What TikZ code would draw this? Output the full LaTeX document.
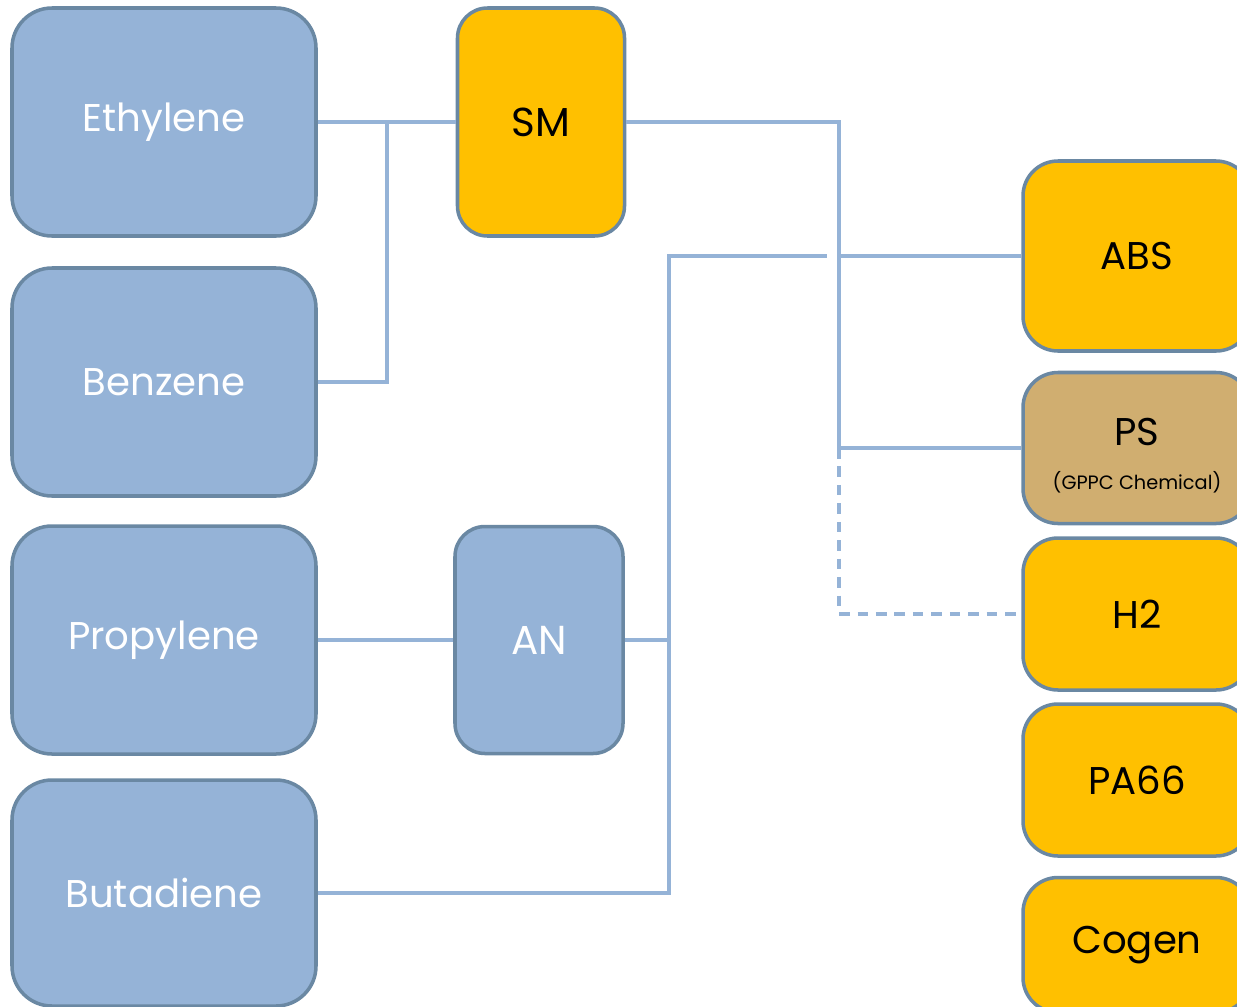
\documentclass[tikz,border=0pt]{standalone}
\usepackage{fontspec}
\setmainfont{Poppins}
\usepackage{tikz}
\usetikzlibrary{calc,positioning}
\definecolor{feedblue}{HTML}{95B3D7}
\definecolor{edgeblue}{HTML}{6A88A3}
\definecolor{prodgold}{HTML}{FFC000}
\definecolor{prodtan}{HTML}{D0AE70}
\tikzset{
  feed/.style={draw=edgeblue, line width=2pt, rounded corners=0.8cm, fill=feedblue, minimum width=6.08cm, minimum height=4.56cm, align=center, text=white, font=\fontsize{22}{26}\selectfont},
  inter/.style={draw=edgeblue, line width=2pt, rounded corners=0.6cm, minimum width=3.34cm, minimum height=4.56cm, align=center, font=\fontsize{23}{26}\selectfont},
  product/.style={draw=edgeblue, line width=2pt, rounded corners=0.7cm, fill=prodgold, minimum width=4.56cm, minimum height=3.04cm, align=center, font=\fontsize{22}{26}\selectfont},
  link/.style={draw=feedblue, line width=2pt},
  optlink/.style={link, dashed, dash pattern=on 6pt off 4.5pt}
}

\begin{document}
\begin{tikzpicture}[x=1cm,y=1cm]
  \useasboundingbox (0,0) rectangle (24.74,-20.12);
  \clip (0,0) rectangle (24.74,-20.12);

  % feedstocks
  \node[feed] (eth) at (3.28,-2.44) {Ethylene};
  \node[feed] (benz) at (3.28,-7.64) {Benzene};
  \node[feed] (prop) at (3.28,-12.80) {Propylene};
  \node[feed, minimum height=4.52cm] (buta) at (3.28,-17.86) {Butadiene};

  % intermediates
  \node[inter, fill=prodgold] (sm) at (10.82,-2.44) {SM};
  \node[inter, fill=feedblue, text=white, minimum width=3.36cm, minimum height=4.54cm] (an) at (10.78,-12.80) {AN};

  % products
  \node[product, minimum height=3.80cm] (abs) at (22.74,-5.12) {ABS};
  \node[product, fill=prodtan, minimum height=3.02cm] (ps) at (22.74,-8.96)
    {\rule{0pt}{24pt}PS\\[-1pt]{\fontsize{11}{13}\selectfont (GPPC Chemical)}};
  \node[product] (htwo) at (22.74,-12.28) {H2};
  \node[product] (pa) at (22.74,-15.60) {PA66};
  \node[product, minimum height=2.70cm] (cogen) at (22.74,-18.90) {Cogen};

  % styrene route
  \coordinate (jsm) at (7.74,-2.44);
  \coordinate (jout) at (16.78,-2.44);
  \coordinate (jan) at (13.38,-12.80);
  \coordinate (gap) at (16.54,-5.12);
  \draw[link] (eth.east) -- (sm.west);
  \draw[link] (benz.east) -| (jsm);
  \draw[link] (sm.east) -- (jout) |- (ps.west);
  \draw[link] (jout |- abs.west) -- (abs.west);
  \draw[optlink] (jout |- ps.west) |- (htwo.west);

  % acrylonitrile / butadiene route
  \draw[link] (prop.east) -- (an.west);
  \draw[link] (an.east) -- (jan);
  \draw[link] (buta.east) -| (jan |- gap) -- (gap);
\end{tikzpicture}
\end{document}
